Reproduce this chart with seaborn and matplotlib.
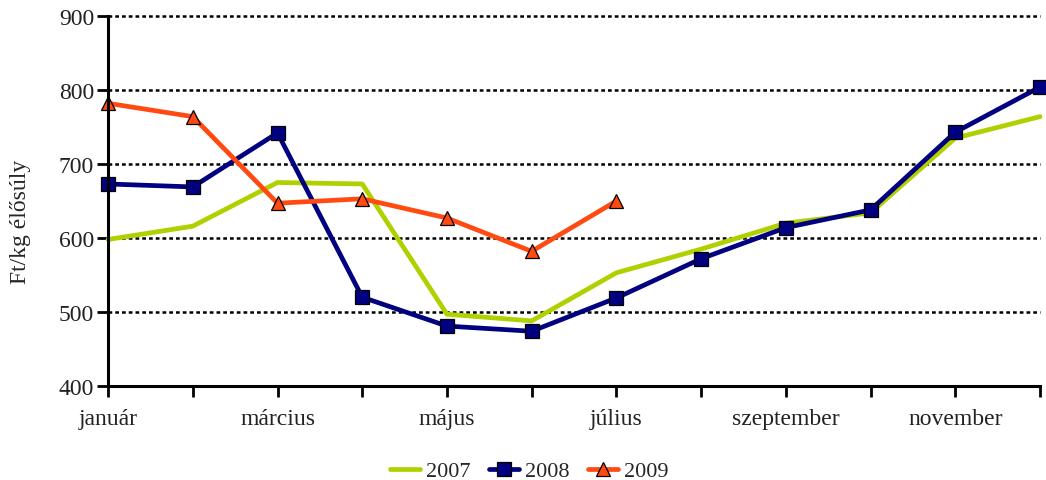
import matplotlib
matplotlib.use('Agg')
import matplotlib.pyplot as plt
import seaborn as sns
import pandas as pd

months = ['január', 'február', 'március', 'április', 'május', 'június',
          'július', 'augusztus', 'szeptember', 'október', 'november', 'december']
y2007 = [598, 616, 675, 673, 497, 488, 553, 585, 620, 634, 735, 764]
y2008 = [673, 669, 742, 520, 481, 474, 519, 572, 614, 638, 743, 804]
y2009 = [782, 764, 647, 653, 627, 582, 650]
yticks = [400, 500, 600, 700, 800, 900]

sns.set_theme(style='white')
plt.rcParams['font.family'] = ['Liberation Serif', 'DejaVu Serif']

fig = plt.figure(figsize=(10.46, 4.81), dpi=100)
ax = fig.add_axes([0.1033, 0.1954, 0.8910, 0.7693])

series = [
    ('2007', y2007, '#B0D000', None),
    ('2008', y2008, '#000080', 's'),
    ('2009', y2009, '#FF4A12', '^'),
]
for name, vals, col, mk in series:
    df = pd.DataFrame({'x': range(len(vals)), 'y': vals})
    kw = dict(marker=mk, markersize=9.5, markeredgecolor='black', markeredgewidth=0.9) if mk else {}
    sns.lineplot(data=df, x='x', y='y', ax=ax, color=col, linewidth=3.4,
                 label=name, clip_on=False, zorder=3, **kw)

for v in yticks[1:]:
    ax.axhline(v, color='black', linewidth=1.8, linestyle=(0, (1.5, 1.2)),
               zorder=0, clip_on=False)

ax.set_xlim(0, 11)
ax.set_ylim(400, 900)
ax.set_yticks(yticks)
ax.set_yticklabels([str(v) for v in yticks], fontsize=17)
ax.set_xticks(range(12))
ax.set_xticklabels([m if i % 2 == 0 else '' for i, m in enumerate(months)], fontsize=17)
ax.set_xlabel('')
ax.set_ylabel('Ft/kg élősúly', fontsize=17)
ax.yaxis.set_label_coords(-0.083, 0.446)
ax.tick_params(axis='both', which='both', direction='out', length=8, width=2,
               color='black', labelcolor='#222222', bottom=True, left=True)
ax.tick_params(axis='x', pad=8)
ax.tick_params(axis='y', pad=2)

for s in ['top', 'right']:
    ax.spines[s].set_visible(False)
for s in ['left', 'bottom']:
    ax.spines[s].set_color('black')
    ax.spines[s].set_linewidth(2.2)
    ax.spines[s].set_zorder(5)

ax.legend(loc='center', bbox_to_anchor=(0.452, -0.23), ncol=3, frameon=False,
          fontsize=16, handlelength=1.35, columnspacing=0.8, handletextpad=0.3,
          borderpad=0)

fig.savefig('out.png', dpi=100)
